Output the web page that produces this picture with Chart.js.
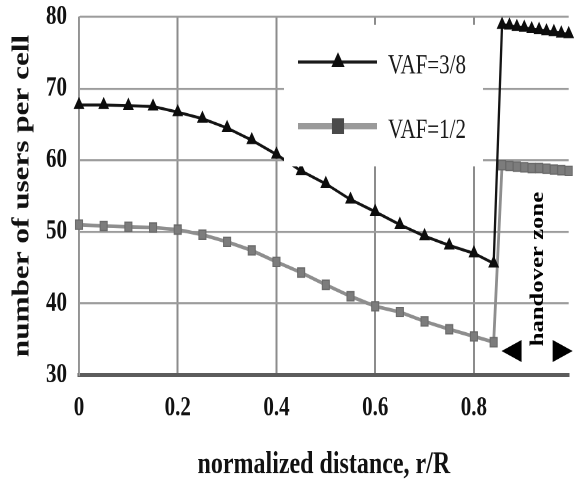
<!DOCTYPE html>
<html>
<head>
<meta charset="utf-8">
<title>Users per cell vs normalized distance</title>
<script src="https://cdn.jsdelivr.net/npm/chart.js@4.4.1/dist/chart.umd.min.js"></script>
<style>
  html, body { margin: 0; padding: 0; background: #fff; }
  body { width: 575px; height: 481px; overflow: hidden; }
  /* the figure is drawn compact and stretched vertically, like the printed plot */
  #frame { width: 575px; height: 370px; transform: scaleY(1.3); transform-origin: 0 0; }
  canvas { display: block; }
</style>
</head>
<body>
<div id="frame"><canvas id="chart" width="575" height="370" style="width:575px;height:370px"></canvas></div>
<script>
// normalized distance r/R of each sample
const distance = [
  0, 0.05, 0.10, 0.15, 0.20, 0.25, 0.30, 0.35, 0.40,
  0.45, 0.50, 0.55, 0.60, 0.65, 0.70, 0.75, 0.80, 0.84,
  0.857, 0.872, 0.887, 0.902, 0.917, 0.932, 0.947, 0.962, 0.977, 0.992
];
// number of users per cell, VAF = 3/8
const usersVaf38 = [
  67.7, 67.7, 67.6, 67.5, 66.7, 65.8, 64.5, 62.8, 60.8,
  58.5, 56.7, 54.5, 52.8, 51.0, 49.4, 48.1, 47.0, 45.6,
  78.9, 78.8, 78.6, 78.5, 78.3, 78.2, 78.0, 77.9, 77.7, 77.6
];
// number of users per cell, VAF = 1/2
const usersVaf12 = [
  51.0, 50.8, 50.7, 50.6, 50.3, 49.6, 48.6, 47.4, 45.8,
  44.3, 42.6, 41.0, 39.6, 38.8, 37.5, 36.4, 35.4, 34.6,
  59.3, 59.2, 59.1, 59.0, 58.9, 58.9, 58.8, 58.7, 58.6, 58.5
];
const seriesLabels = ['VAF=3/8', 'VAF=1/2'];

const xTicks = [0, 0.2, 0.4, 0.6, 0.8];
const xTickLabels = ['0', '0.2', '0.4', '0.6', '0.8'];
const yTicks = [30, 40, 50, 60, 70, 80];
const yTickLabels = ['30', '40', '50', '60', '70', '80'];

// handover zone: start/end in r/R, arrow level and label anchor in (r/R, users)
const handoverZone = [0.856, 1.0];
const handoverArrowLevel = 33.35;
const handoverLabel = 'handover zone';
const handoverLabelAt = [0.93, 44.8];

const SERIF = '"Liberation Serif", "Times New Roman", serif';

const pts = vals => distance.map((d, i) => ({ x: d, y: vals[i] }));

// boxed legend sitting inside the plot area
const boxLegend = {
  id: 'boxLegend',
  afterDatasetsDraw(chart, args, opts) {
    const { ctx, chartArea: a } = chart;
    ctx.save();
    ctx.fillStyle = '#ffffff';
    ctx.fillRect(a.left + 205, a.top + 6, 199, 109);
    chart.data.datasets.forEach((ds, i) => {
      const yLine = a.top + 34.7 + i * 49.3;
      ctx.strokeStyle = opts.lineColors[i];
      ctx.lineWidth = opts.lineWidths[i];
      ctx.beginPath();
      ctx.moveTo(a.left + 219, yLine);
      ctx.lineTo(a.left + 298, yLine);
      ctx.stroke();
      ctx.fillStyle = opts.markerColors[i];
      ctx.strokeStyle = opts.markerColors[i];
      Chart.helpers.drawPoint(ctx, {
        pointStyle: ds.pointStyle, radius: ds.pointRadius, rotation: 0, borderWidth: 1
      }, a.left + 259, yLine);
      ctx.fillStyle = '#1a1a1a';
      ctx.font = '21px ' + SERIF;
      ctx.textAlign = 'left';
      ctx.textBaseline = 'alphabetic';
      ctx.fillText(ds.label, a.left + 309, yLine + 9);
    });
    ctx.restore();
  }
};

// arrowheads marking the handover zone and its rotated label
const handoverMarks = {
  id: 'handoverMarks',
  afterDatasetsDraw(chart) {
    const { ctx, scales: { x, y } } = chart;
    const yA = y.getPixelForValue(handoverArrowLevel);
    const xL = x.getPixelForValue(handoverZone[0]);
    const xR = x.getPixelForValue(handoverZone[1]);
    const len = 20, half = 8.5;
    ctx.save();
    ctx.fillStyle = '#000';
    ctx.beginPath();
    ctx.moveTo(xL, yA); ctx.lineTo(xL + len, yA - half); ctx.lineTo(xL + len, yA + half);
    ctx.closePath(); ctx.fill();
    ctx.beginPath();
    ctx.moveTo(xR, yA); ctx.lineTo(xR - len, yA - half); ctx.lineTo(xR - len, yA + half);
    ctx.closePath(); ctx.fill();
    ctx.translate(x.getPixelForValue(handoverLabelAt[0]), y.getPixelForValue(handoverLabelAt[1]));
    ctx.rotate(-Math.PI / 2);
    ctx.font = 'bold 19px ' + SERIF;
    ctx.textAlign = 'center';
    ctx.textBaseline = 'middle';
    ctx.fillText(handoverLabel, 0, 0);
    ctx.restore();
  }
};

// let the layout padding alone decide where the plot area starts
const noEdgePadding = s => {
  s.paddingTop = 0; s.paddingBottom = 0; s.paddingLeft = 0; s.paddingRight = 0;
};

new Chart(document.getElementById('chart'), {
  type: 'scatter',
  data: {
    datasets: [
      {
        label: seriesLabels[0],
        data: pts(usersVaf38),
        showLine: true,
        tension: 0,
        borderColor: '#141414',
        borderWidth: 2.3,
        pointStyle: 'triangle',
        pointRadius: 5.3,
        pointBackgroundColor: '#0d0d0d',
        pointBorderColor: '#0d0d0d',
        pointBorderWidth: 1,
        clip: false
      },
      {
        label: seriesLabels[1],
        data: pts(usersVaf12),
        showLine: true,
        tension: 0,
        borderColor: '#8e8e8e',
        borderWidth: 2.8,
        pointStyle: 'rect',
        pointRadius: 5,
        pointBackgroundColor: '#7c7c7c',
        pointBorderColor: '#6a6a6a',
        pointBorderWidth: 1,
        clip: false
      }
    ]
  },
  options: {
    responsive: false,
    devicePixelRatio: 2,
    animation: false,
    layout: { padding: { top: 13, right: 0, bottom: 0, left: 0 } },
    plugins: {
      legend: { display: false },
      tooltip: { enabled: false },
      boxLegend: {
        lineColors: ['#1a1a1a', '#9a9a9a'],
        lineWidths: [2.3, 5],
        markerColors: ['#0d0d0d', '#4a4a4a']
      }
    },
    scales: {
      x: {
        type: 'linear',
        min: 0,
        max: 0.992,
        afterBuildTicks: s => { s.ticks = xTicks.map(v => ({ value: v })); },
        afterFit: s => { s.height = 81.5; noEdgePadding(s); },
        ticks: {
          callback: (v, i) => xTickLabels[i],
          color: '#111',
          padding: 13,
          maxRotation: 0,
          autoSkip: false,
          font: { family: SERIF, size: 21, weight: 'bold' }
        },
        grid: { color: '#8c8c8c', lineWidth: 2, drawTicks: false },
        border: { color: '#5c5c5c', width: 3 },
        title: {
          display: true,
          text: 'normalized distance, r/R',
          color: '#111',
          padding: { top: 0, bottom: 0 },
          font: { family: SERIF, size: 24, weight: 'bold', lineHeight: 1 }
        }
      },
      y: {
        type: 'linear',
        min: 30,
        max: 80,
        afterBuildTicks: s => { s.ticks = yTicks.map(v => ({ value: v })); },
        afterFit: s => { s.width = 79; noEdgePadding(s); },
        ticks: {
          callback: (v, i) => yTickLabels[i],
          color: '#111',
          padding: 12,
          autoSkip: false,
          font: { family: SERIF, size: 21, weight: 'bold' }
        },
        grid: { color: '#9c9c9c', lineWidth: 1.6, drawTicks: false },
        border: { color: '#9a9a9a', width: 1.5 },
        title: {
          display: true,
          text: 'number of users per cell',
          color: '#111',
          padding: { top: 8, bottom: 0 },
          font: { family: SERIF, size: 24, weight: 'bold', lineHeight: 1.2 }
        }
      }
    }
  },
  plugins: [handoverMarks, boxLegend]
});
</script>
</body>
</html>
